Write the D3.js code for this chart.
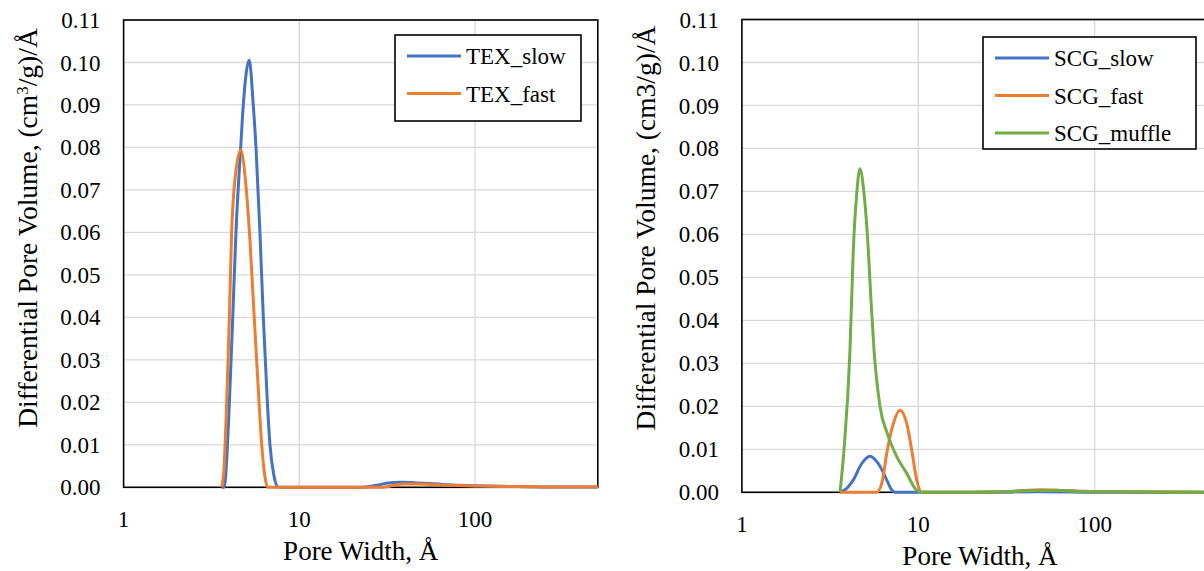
<!DOCTYPE html>
<html>
<head>
<meta charset="utf-8">
<script src="https://cdn.jsdelivr.net/npm/d3@7"></script>
<style>
  body { margin: 0; background: #fff; }
  svg { display: block; font-family: "Liberation Serif", "Times New Roman", serif; }
</style>
</head>
<body>
<svg id="chart" width="1204" height="571"></svg>
<script>
// pore widths (Å) and differential pore volume
const texSlowWidth = [3.62, 3.74, 3.88, 4.00, 4.18, 4.36, 4.64, 4.80, 5.19, 5.47, 5.67, 5.97, 6.24, 6.58, 6.81, 7.15, 7.59, 8.5, 10, 15, 22, 27, 32, 38, 45, 55, 70, 90, 120, 160, 250, 500];
const texSlowVol   = [0, 0, 0.008, 0.02, 0.04, 0.06, 0.08, 0.09, 0.1005, 0.09, 0.08, 0.06, 0.04, 0.02, 0.01, 0.003, 0, 0, 0, 0, 0, 0.0004, 0.0010, 0.0012, 0.0011, 0.0009, 0.0006, 0.0004, 0.0003, 0.0002, 0.0001, 0.0001];

const texFastWidth = [3.62, 3.72, 3.86, 4.00, 4.12, 4.25, 4.64, 4.97, 5.24, 5.54, 5.90, 6.11, 6.35, 6.6, 8, 10, 20, 30, 34, 39, 48, 60, 80, 110, 160, 250, 500];
const texFastVol   = [0, 0.004, 0.02, 0.04, 0.06, 0.07, 0.0794, 0.071, 0.058, 0.04, 0.02, 0.01, 0.003, 0, 0, 0, 0, 0, 0.0004, 0.0008, 0.0008, 0.0006, 0.0004, 0.0003, 0.0002, 0.0001, 0.0001];

const scgSlowWidth = [3.60, 3.9, 4.28, 4.78, 5.32, 5.93, 6.62, 7.0, 7.38, 10, 20, 35, 48, 70, 120, 500];
const scgSlowVol   = [0, 0.0008, 0.0029, 0.0067, 0.0084, 0.0067, 0.0029, 0.0008, 0, 0, 0, 0.0001, 0.0002, 0.0001, 0, 0];

const scgFastWidth = [3.60, 5.81, 6.20, 6.67, 7.22, 7.87, 8.60, 9.18, 9.79, 10.45, 20, 30, 38, 49, 62, 80, 120, 200, 500];
const scgFastVol   = [0, 0, 0.002, 0.0098, 0.016, 0.0191, 0.016, 0.0098, 0.0029, 0, 0, 0.0001, 0.0004, 0.0006, 0.0005, 0.0003, 0.0001, 0.0001, 0];

const scgMuffleWidth = [3.60, 3.79, 4.10, 4.28, 4.48, 4.67, 4.92, 5.21, 5.39, 5.61, 6.07, 6.67, 7.55, 8.60, 9.79, 10.7, 20, 30, 38, 49, 62, 80, 120, 500];
const scgMuffleVol   = [0, 0.0098, 0.0331, 0.0563, 0.0696, 0.0753, 0.0696, 0.0563, 0.0448, 0.0331, 0.0199, 0.0137, 0.0083, 0.0044, 0.0005, 0, 0, 0.0001, 0.0003, 0.0004, 0.0004, 0.0002, 0.0001, 0];

const yTicks = d3.range(0, 0.1101, 0.01);
const xTicks = [1, 10, 100];

const blue = '#4472c4', orange = '#ed7d31', green = '#70ad47';

const svg = d3.select('#chart');

function toPoints(xs, ys) {
  return xs.map((x, i) => ({x: x, y: ys[i]}));
}

function drawPanel(p) {
  const xScale = d3.scaleLog().domain([1, 500]).range([p.left, p.right]);
  const yScale = d3.scaleLinear().domain([0, 0.11]).range([p.bottom, p.top]);
  const g = svg.append('g');

  // gridlines
  g.selectAll('.hgrid').data(yTicks).enter().append('line')
    .attr('x1', p.left).attr('x2', p.right)
    .attr('y1', d => yScale(d)).attr('y2', d => yScale(d))
    .attr('stroke', '#d9d9d9').attr('stroke-width', 1.3);
  g.selectAll('.vgrid').data([10, 100]).enter().append('line')
    .attr('x1', d => xScale(d)).attr('x2', d => xScale(d))
    .attr('y1', p.top).attr('y2', p.bottom)
    .attr('stroke', '#d9d9d9').attr('stroke-width', 1.3);

  // frame
  g.append('rect')
    .attr('x', p.left).attr('y', p.top)
    .attr('width', p.right - p.left).attr('height', p.bottom - p.top)
    .attr('fill', 'none').attr('stroke', '#000').attr('stroke-width', 1.6);

  // tick labels
  g.selectAll('.ylab').data(yTicks).enter().append('text')
    .attr('x', p.left - 23).attr('y', d => yScale(d))
    .attr('dy', '0.35em').attr('text-anchor', 'end')
    .attr('font-size', 23).text(d => d3.format('.2f')(d));
  g.selectAll('.xlab').data(xTicks).enter().append('text')
    .attr('x', d => xScale(d)).attr('y', p.bottom + 40)
    .attr('text-anchor', 'middle')
    .attr('font-size', 23).text(d => d);

  // axis titles
  g.append('text')
    .attr('x', (p.left + p.right) / 2).attr('y', p.bottom + 73)
    .attr('text-anchor', 'middle').attr('font-size', 27)
    .text('Pore Width, Å');
  const yt = g.append('text')
    .attr('transform', `translate(${p.left - 87},228) rotate(-90)`)
    .attr('text-anchor', 'middle').attr('font-size', 27.5);
  if (p.superscript) {
    yt.append('tspan').text('Differential Pore Volume, (cm');
    yt.append('tspan').attr('baseline-shift', 'super').attr('font-size', 17).text('3');
    yt.append('tspan').text('/g)/Å');
  } else {
    yt.text('Differential Pore Volume, (cm3/g)/Å');
  }

  // series
  const line = d3.line()
    .x(d => xScale(d.x)).y(d => yScale(d.y))
    .curve(d3.curveMonotoneX);
  p.series.forEach(s => {
    g.append('path')
      .attr('d', line(toPoints(s.xs, s.ys)))
      .attr('fill', 'none').attr('stroke', s.color)
      .attr('stroke-width', 3).attr('stroke-linejoin', 'round');
  });

  // legend
  const lg = g.append('g');
  lg.append('rect')
    .attr('x', p.legend.x).attr('y', p.legend.y)
    .attr('width', p.legend.w).attr('height', p.legend.h)
    .attr('fill', '#fff').attr('stroke', '#000').attr('stroke-width', 1.6);
  p.series.forEach((s, i) => {
    const ly = p.legend.y + 21 + i * 37.5;
    lg.append('line')
      .attr('x1', p.legend.x + 12).attr('x2', p.legend.x + 66)
      .attr('y1', ly).attr('y2', ly)
      .attr('stroke', s.color).attr('stroke-width', 3);
    lg.append('text')
      .attr('x', p.legend.x + 71).attr('y', ly).attr('dy', '0.35em')
      .attr('font-size', 23).text(s.name);
  });
}

drawPanel({
  left: 123.6, right: 597.8, top: 20, bottom: 487.3, superscript: true,
  legend: {x: 395, y: 35, w: 186, h: 86},
  series: [
    {name: 'TEX_slow', xs: texSlowWidth, ys: texSlowVol, color: blue},
    {name: 'TEX_fast', xs: texFastWidth, ys: texFastVol, color: orange}
  ]
});

drawPanel({
  left: 741.9, right: 1218, top: 19.5, bottom: 492.3, superscript: false,
  legend: {x: 983, y: 37, w: 213, h: 112},
  series: [
    {name: 'SCG_slow', xs: scgSlowWidth, ys: scgSlowVol, color: blue},
    {name: 'SCG_fast', xs: scgFastWidth, ys: scgFastVol, color: orange},
    {name: 'SCG_muffle', xs: scgMuffleWidth, ys: scgMuffleVol, color: green}
  ]
});
</script>
</body>
</html>
